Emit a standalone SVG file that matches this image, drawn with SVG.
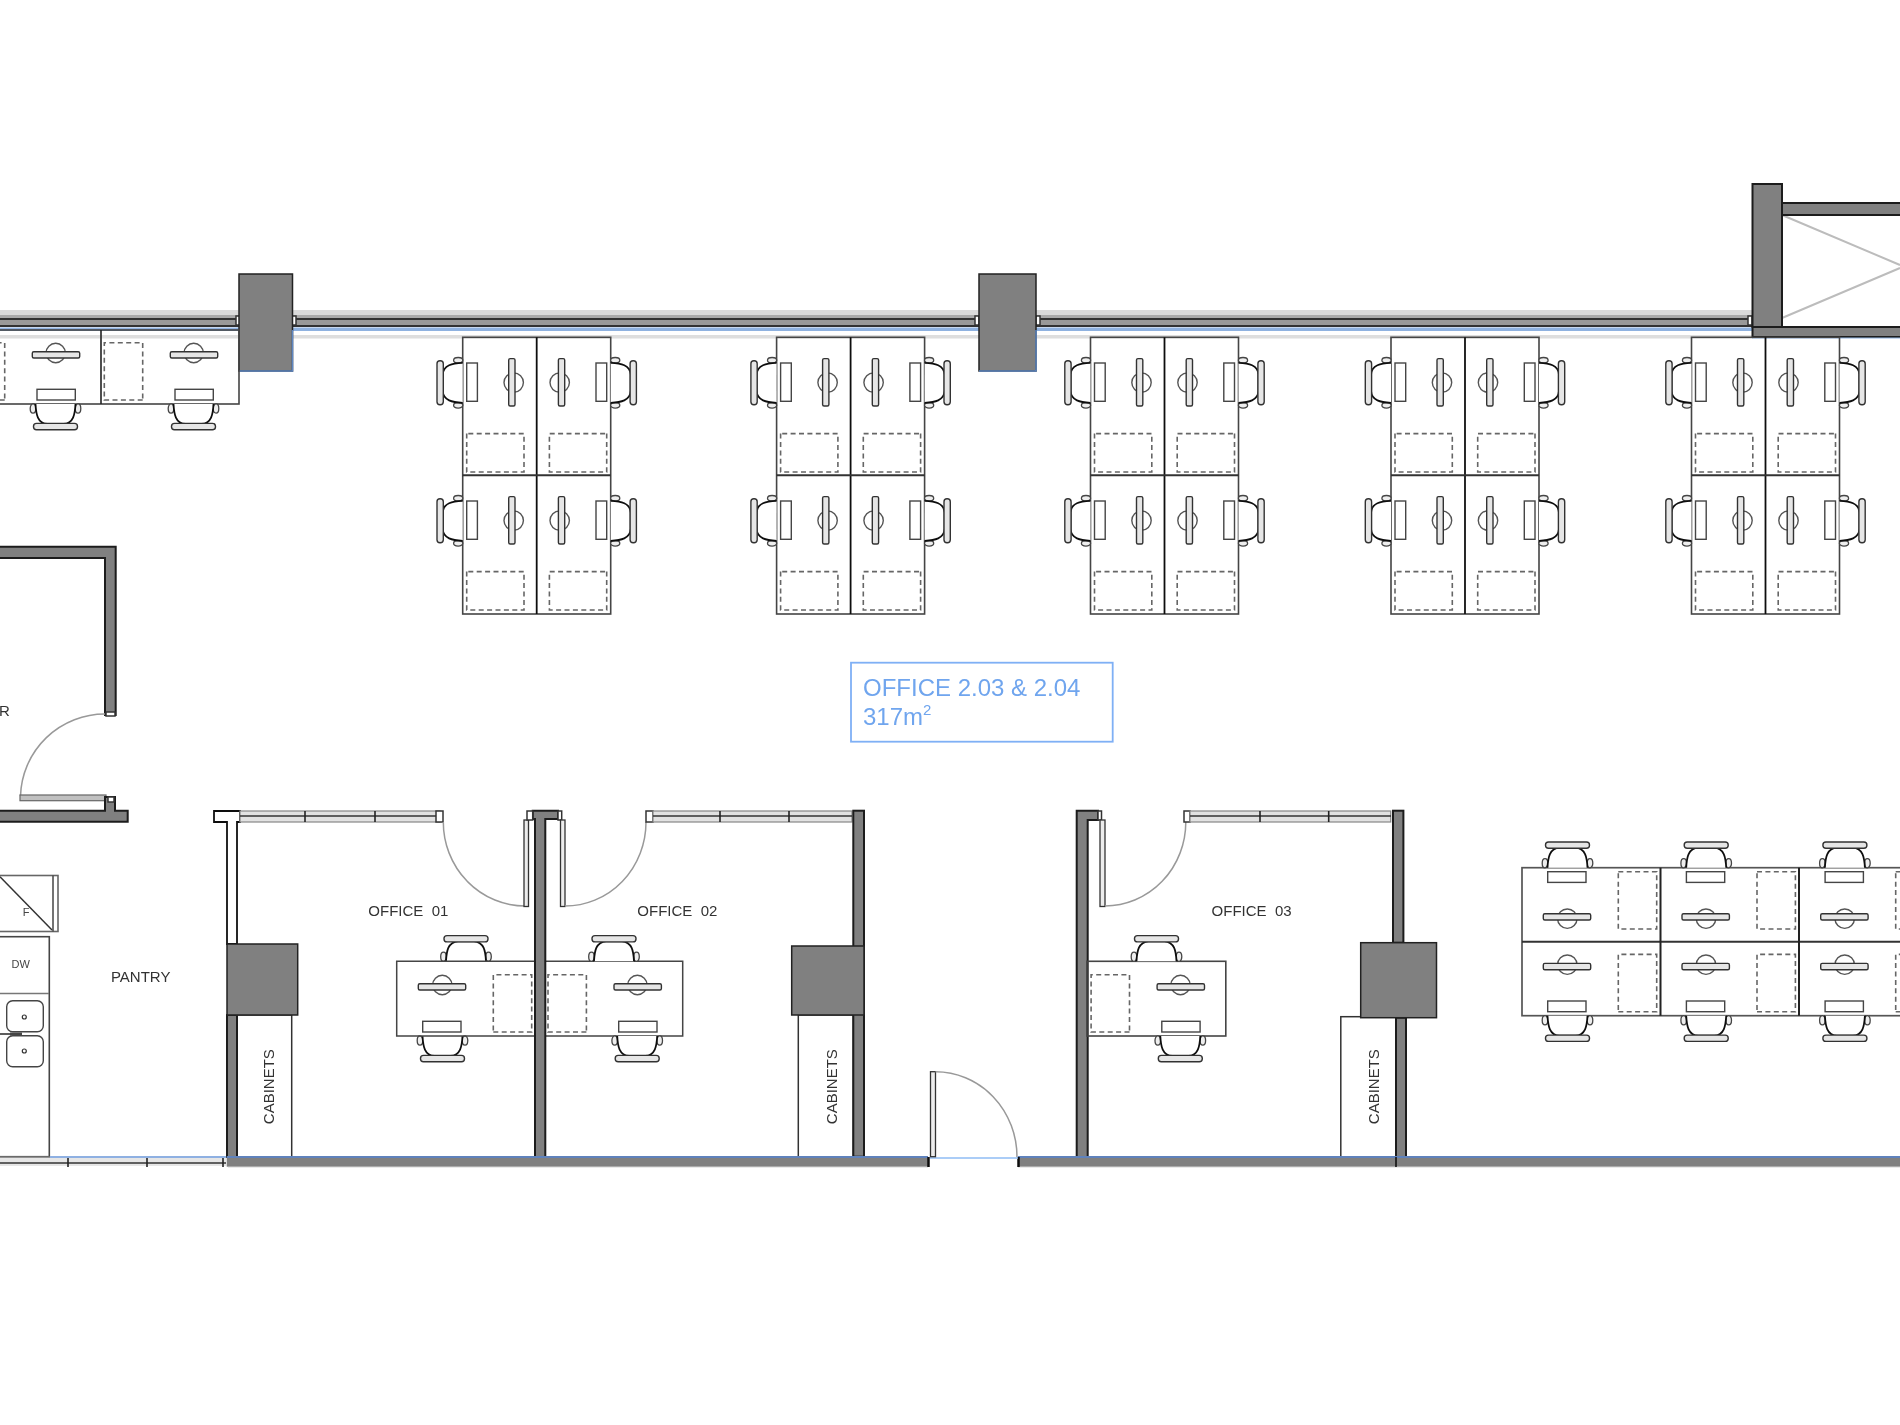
<svg xmlns="http://www.w3.org/2000/svg" width="1900" height="1425" viewBox="0 0 1900 1425">
<style>
text{font-family:"Liberation Sans",Arial,sans-serif;fill:#333}
.t{font-size:15px}
.s{font-size:11px;fill:#444}
.wall{fill:#808080;stroke:#1c1c1c;stroke-width:2}
.col{fill:#808080;stroke:#222;stroke-width:1.500}
.thin{fill:#fff;stroke:#333;stroke-width:1.500}
.open{fill:none;stroke:#444;stroke-width:1.500}
.dash{fill:none;stroke:#666;stroke-width:1.600;stroke-dasharray:5 3.400}
.pad{fill:#e6e6e6;stroke:#333;stroke-width:1.400}
.swing{fill:none;stroke:#999;stroke-width:1.500}
.leaf{fill:#ececec;stroke:#333;stroke-width:1.300}
.win{fill:#e2e2e2;stroke:#888;stroke-width:1.200}
.tick{stroke:#222;stroke-width:1.600;fill:none}
.room{fill:#6fa5ee;font-size:24px}
</style>
<defs>
<filter id="soft" x="0" y="0" width="100%" height="100%" filterUnits="objectBoundingBox"><feGaussianBlur stdDeviation="0.500"/></filter>
<g id="chair">
<ellipse cx="-22.500" cy="-4.500" rx="2.800" ry="4.600" fill="#eee" stroke="#444" stroke-width="1.300"/>
<ellipse cx="22.500" cy="-4.500" rx="2.800" ry="4.600" fill="#eee" stroke="#444" stroke-width="1.300"/>
<path d="M-20 0C-19.500-10-18-19.500-8-20L8-20C18-19.500 19.500-10 20 0" fill="#fff" stroke="#111" stroke-width="1.800"/>
<rect class="pad" x="-22" y="-25.700" width="44" height="6.300" rx="3"/>
</g>
<g id="ws">
<use href="#chair" x="45.500"/>
<rect x="25.700" y="4" width="38.300" height="10.700" fill="#fff" stroke="#444" stroke-width="1.400"/>
<circle cx="45.300" cy="51" r="9.700" fill="none" stroke="#555" stroke-width="1.400"/>
<rect class="pad" x="21.300" y="46" width="47.400" height="6.300" rx="1.500"/>
<rect class="dash" x="96.300" y="4" width="38.400" height="57.300"/>
</g>
<g id="cluster">
<rect x="0" y="0" width="148" height="276.700" fill="none" stroke="#444" stroke-width="1.600"/>
<path d="M74 0V276.700" stroke="#111" stroke-width="1.800" fill="none"/>
<path d="M0 138H148" stroke="#333" stroke-width="2" fill="none"/>
<use href="#ws" transform="matrix(0 1 1 0 0 0)"/>
<use href="#ws" transform="matrix(0 1 -1 0 148 0)"/>
<use href="#ws" transform="matrix(0 1 1 0 0 138)"/>
<use href="#ws" transform="matrix(0 1 -1 0 148 138)"/>
</g>
</defs>
<rect width="1900" height="1425" fill="#fff"/>
<g id="plan" filter="url(#soft)">
<rect width="1900" height="1425" fill="#fff"/>

<g id="north-window">
<rect x="0" y="310" width="1753" height="5" fill="#dadada"/>
<rect x="0" y="315" width="1753" height="3" fill="#aaa"/>
<rect x="0" y="318" width="1753" height="2" fill="#333"/>
<rect x="0" y="320" width="1753" height="5" fill="#999"/>
<rect x="0" y="325" width="1753" height="2" fill="#333"/>
<rect x="0" y="327.500" width="1753" height="3.500" fill="#8fb2e0"/>
<rect x="0" y="335" width="1753" height="3.500" fill="#dedede"/>
<rect x="236" y="316" width="4" height="9" class="thin"/>
<rect x="292" y="316" width="4" height="9" class="thin"/>
<rect x="975" y="316" width="4" height="9" class="thin"/>
<rect x="1036" y="316" width="4" height="9" class="thin"/>
<rect x="1748" y="316" width="4" height="9" class="thin"/>
</g>

<g id="columns">
<rect class="col" x="239" y="274" width="53.500" height="97"/>
<path d="M292.500 330V371H239" fill="none" stroke="#5f88c4" stroke-width="1.500"/>
<rect class="col" x="979" y="274" width="57" height="97"/>
<path d="M1036 330V371H979" fill="none" stroke="#5f88c4" stroke-width="1.500"/>
</g>

<g id="stair-core">
<path d="M1782 215L1900 265M1782 318L1900 268" stroke="#bcbcbc" stroke-width="2" fill="none"/>
<rect class="wall" x="1782" y="203" width="120" height="12"/>
<rect class="wall" x="1752.500" y="327" width="150" height="10"/>
<rect class="wall" x="1752.500" y="184" width="29.500" height="143"/>
<path d="M1752 338H1900" stroke="#8fb2e0" stroke-width="1"/>
</g>

<g id="north-desks">
<rect x="-40" y="330" width="279" height="74" fill="none" stroke="#444" stroke-width="1.600"/>
<path d="M101 330V404" stroke="#222" stroke-width="1.600"/>
<use href="#ws" transform="matrix(-1 0 0 -1 101 404)"/>
<use href="#ws" transform="matrix(-1 0 0 -1 239 404)"/>
</g>

<g id="cluster-1"><use href="#cluster" x="462.700" y="337.300"/></g>
<g id="cluster-2"><use href="#cluster" x="776.600" y="337.300"/></g>
<g id="cluster-3"><use href="#cluster" x="1090.500" y="337.300"/></g>
<g id="cluster-4"><use href="#cluster" x="1391" y="337.300"/></g>
<g id="cluster-5"><use href="#cluster" x="1691.500" y="337.300"/></g>

<g id="room-label">
<rect x="851" y="662.700" width="261.700" height="79" fill="none" stroke="#7fb0f5" stroke-width="1.800"/>
<text class="room" x="863" y="696">OFFICE 2.03 &amp; 2.04</text>
<text class="room" x="863" y="725">317m<tspan font-size="15" dy="-10">2</tspan></text>
</g>

<g id="meeting-room">
<path class="wall" d="M-4 546.700H115.700V715H105V558H-4Z"/>
<rect class="thin" x="106" y="712" width="9" height="4"/>
<path class="swing" d="M105 714A84.500 84.500 0 0 0 20.500 796"/>
<rect x="20" y="795" width="86" height="5.700" fill="#c0c0c0" stroke="#666" stroke-width="1.200"/>
<path class="wall" d="M-4 810.700H105V797H115V810.700H127.700V821.700H-4Z"/>
<rect class="thin" x="108" y="797" width="6" height="5"/>
<text class="t" x="-1" y="716">R</text>
</g>

<g id="pantry">
<rect x="-4" y="875.500" width="62" height="56" fill="#fff" stroke="#666" stroke-width="1.600"/>
<path d="M53 875.500V931.500" stroke="#444" stroke-width="1.500"/>
<path d="M0 876.700L52 930" stroke="#333" stroke-width="1.500"/>
<text class="s" x="26" y="915.500" text-anchor="middle">F</text>
<rect x="-4" y="936.700" width="53.300" height="220" fill="#fff" stroke="#444" stroke-width="1.600"/>
<path d="M0 993.500H49" stroke="#777" stroke-width="1.700"/>
<text class="s" x="20.700" y="968" text-anchor="middle">DW</text>
<rect x="6.700" y="1000.700" width="36.600" height="31" rx="6" fill="#fff" stroke="#444" stroke-width="1.400"/>
<rect x="6.700" y="1035.700" width="36.600" height="31" rx="6" fill="#fff" stroke="#444" stroke-width="1.400"/>
<circle cx="24.300" cy="1017" r="2" fill="none" stroke="#333" stroke-width="1.200"/>
<circle cx="24.300" cy="1051" r="2" fill="none" stroke="#333" stroke-width="1.200"/>
<path d="M0 1034H12" stroke="#333" stroke-width="1.600"/>
<path d="M10 1034H22" stroke="#444" stroke-width="3"/>
<text class="t" x="140.700" y="982" text-anchor="middle">PANTRY</text>
<rect x="0" y="1157" width="226" height="9" fill="#e6e6e6"/>
<path d="M0 1157H50" stroke="#777" stroke-width="1.600"/>
<path d="M50 1157H226" stroke="#8eb0e2" stroke-width="1.800"/>
<path d="M0 1163H226" stroke="#333" stroke-width="1.600"/>
<path class="tick" d="M68 1158V1167M147 1158V1167M223 1158V1167"/>
</g>

<g id="office-01">
<rect class="thin" x="237" y="1015" width="54.700" height="142"/>
<path d="M214 811H240V822H237V944H227V822H214Z" fill="#fff" stroke="#111" stroke-width="1.800"/>
<rect class="wall" x="227" y="1015" width="10" height="142"/>
<rect class="col" x="227" y="944" width="70.700" height="71"/>
<rect class="win" x="240" y="811" width="200" height="11"/>
<path d="M240 816H440" stroke="#333" stroke-width="1.600"/>
<path class="tick" d="M305 811V822M375 811V822"/>
<rect class="thin" x="436" y="811" width="7" height="11"/>
<path class="swing" d="M443.300 822A82 84 0 0 0 525 906"/>
<rect class="leaf" x="524" y="820" width="4.500" height="86.500"/>
<text class="t" x="368.300" y="916" xml:space="preserve">OFFICE  01</text>
<use href="#chair" x="466" y="961.300"/>
<use href="#ws" transform="matrix(1 0 0 -1 397 1036)"/>
<text class="t" transform="translate(274 1086.700) rotate(-90)" text-anchor="middle">CABINETS</text>
</g>

<g id="office-02">
<path class="open" d="M396.700 961.300H682.700V1036H396.700Z"/>
<use href="#chair" x="614" y="961.300"/>
<use href="#ws" transform="matrix(-1 0 0 -1 682.700 1036)"/>
<path class="wall" d="M532.700 810.700H558V819H545.300V1157H535V819H532.700Z"/>
<rect class="thin" x="527" y="811" width="5.700" height="9"/>
<rect class="thin" x="558" y="811" width="3.700" height="9"/>
<rect class="leaf" x="560.500" y="820" width="4.500" height="86.500"/>
<path class="swing" d="M565 906A81 84 0 0 0 646 822"/>
<rect class="thin" x="646" y="811" width="7" height="11"/>
<rect class="win" x="653" y="811" width="199" height="11"/>
<path d="M653 816H852" stroke="#333" stroke-width="1.600"/>
<path class="tick" d="M720 811V822M789 811V822"/>
<rect class="thin" x="798.300" y="1015" width="55" height="142"/>
<rect class="wall" x="853.300" y="810.700" width="10.700" height="346"/>
<rect class="col" x="791.700" y="946" width="72.300" height="69"/>
<text class="t" transform="translate(836.700 1086.700) rotate(-90)" text-anchor="middle">CABINETS</text>
<text class="t" x="637.300" y="916" xml:space="preserve">OFFICE  02</text>
</g>

<g id="office-03">
<path class="wall" d="M1076.700 810.700H1098V820H1087.700V1157H1076.700Z"/>
<rect class="thin" x="1098" y="811" width="3.500" height="9"/>
<rect class="leaf" x="1100" y="820" width="5" height="86.500"/>
<path class="swing" d="M1105 906A81 84 0 0 0 1185.800 822"/>
<rect class="thin" x="1184" y="811" width="6" height="11"/>
<rect class="win" x="1190" y="811" width="200.700" height="11"/>
<path d="M1190 816H1391" stroke="#333" stroke-width="1.600"/>
<path class="tick" d="M1260 811V822M1328.700 811V822"/>
<rect class="wall" x="1393" y="810.700" width="10.400" height="132"/>
<rect x="1087" y="961.300" width="138.800" height="74.700" fill="none" stroke="#444" stroke-width="1.600"/>
<use href="#chair" x="1156.500" y="961.300"/>
<use href="#ws" transform="matrix(-1 0 0 -1 1225.800 1036)"/>
<rect class="thin" x="1340.800" y="1016.700" width="55.200" height="140.300"/>
<rect class="wall" x="1396" y="1017.700" width="10" height="139.300"/>
<rect class="col" x="1360.700" y="942.700" width="75.800" height="75"/>
<text class="t" transform="translate(1378.500 1086.700) rotate(-90)" text-anchor="middle">CABINETS</text>
<text class="t" x="1211.600" y="916" xml:space="preserve">OFFICE  03</text>
</g>

<g id="south-wall">
<rect x="226.700" y="1157" width="701.300" height="9.700" fill="#808080"/>
<rect x="1018" y="1157" width="884" height="9.700" fill="#808080"/>
<path d="M226.700 1157H928M1018 1157H1900" stroke="#5f82bc" stroke-width="1.800" fill="none"/>
<path d="M228 1166.700H928M1018 1166.700H1900" stroke="#aaa" stroke-width="1.200" fill="none"/>
<path d="M928.500 1157V1167M1018.500 1157V1167" stroke="#111" stroke-width="2.500" fill="none"/>
<path d="M1396 1157V1167" stroke="#111" stroke-width="1.600" fill="none"/>
<path d="M930 1158H1018" stroke="#8fbcf5" stroke-width="1.600" fill="none"/>
</g>

<g id="entry-door">
<rect class="leaf" x="930.500" y="1071.700" width="5" height="85"/>
<path class="swing" d="M935.500 1071.700A81.500 85.300 0 0 1 1017 1157"/>
</g>

<g id="east-desks">
<rect x="1522" y="867.700" width="390" height="148" fill="none" stroke="#555" stroke-width="1.700"/>
<path d="M1522 941.700H1900" stroke="#333" stroke-width="2"/>
<path d="M1660.500 867.700V1015.700M1799 867.700V1015.700" stroke="#222" stroke-width="2" fill="none"/>
<use href="#ws" transform="translate(1522 867.700)"/>
<use href="#ws" transform="translate(1660.700 867.700)"/>
<use href="#ws" transform="translate(1799.400 867.700)"/>
<use href="#ws" transform="matrix(1 0 0 -1 1522 1015.700)"/>
<use href="#ws" transform="matrix(1 0 0 -1 1660.700 1015.700)"/>
<use href="#ws" transform="matrix(1 0 0 -1 1799.400 1015.700)"/>
</g>
</g>
</svg>
